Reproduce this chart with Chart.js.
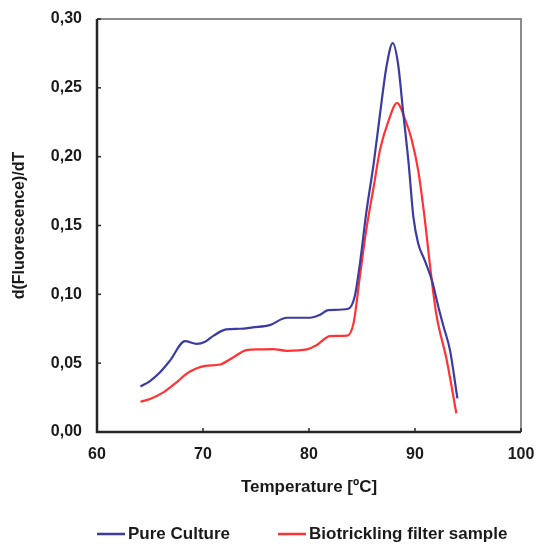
<!DOCTYPE html>
<html>
<head>
<meta charset="utf-8">
<script src="https://cdn.jsdelivr.net/npm/chart.js@4/dist/chart.umd.min.js"></script>
<style>
  html, body { margin: 0; padding: 0; background: #fff; }
  #wrap { width: 536px; height: 544px; }
</style>
</head>
<body>
<div id="wrap"><canvas id="c" width="536" height="544"></canvas></div>
<script>
// ---- data ----
const xTicks = [60, 70, 80, 90, 100];
const yTicks = [0, 0.05, 0.10, 0.15, 0.20, 0.25, 0.30];

const pureLabel = 'Pure Culture';
const pureTemp = [64.1, 65.0, 65.9, 66.9, 68.3, 69.4, 70.2, 71.0, 72.2, 73.5, 74.7, 76.3, 77.9, 80.1, 81.0, 81.8, 83.7, 84.3, 84.8, 85.4, 86.1, 86.7, 87.3, 87.9, 88.4, 88.9, 89.4, 89.85, 90.3, 90.9, 91.6, 92.2, 92.7, 93.3, 94.0];
const pureValues = [0.033, 0.037, 0.043, 0.052, 0.066, 0.064, 0.0655, 0.070, 0.0745, 0.075, 0.076, 0.0776, 0.083, 0.083, 0.085, 0.0885, 0.0895, 0.098, 0.122, 0.159, 0.195, 0.231, 0.265, 0.2825, 0.2675, 0.231, 0.195, 0.156, 0.137, 0.125, 0.110, 0.091, 0.0764, 0.0595, 0.0244];

const bioLabel = 'Biotrickling filter sample';
const bioTemp = [64.1, 65.0, 66.3, 67.5, 68.5, 70.2, 71.6, 72.8, 74.1, 75.3, 76.6, 77.9, 79.8, 80.7, 82.0, 83.6, 84.2, 84.8, 85.4, 86.1, 86.7, 87.5, 88.3, 89.1, 89.7, 90.3, 90.9, 91.4, 92.0, 93.0, 93.9];
const bioValues = [0.022, 0.024, 0.029, 0.036, 0.0426, 0.048, 0.049, 0.054, 0.0595, 0.060, 0.0602, 0.059, 0.060, 0.063, 0.0697, 0.070, 0.079, 0.113, 0.1466, 0.178, 0.205, 0.226, 0.239, 0.2264, 0.212, 0.190, 0.156, 0.122, 0.086, 0.052, 0.0136];

const xTitle = 'Temperature [ºC]';
const yTitle = 'd(Fluorescence)/dT';

const blue = '#3b3ba3';
const red = '#ff3333';
const FONT = "'Liberation Sans', Arial, sans-serif";

function pts(xs, ys) { return xs.map((x, i) => ({ x: x, y: ys[i] })); }

const framePlugin = {
  id: 'frame',
  afterDraw(chart) {
    const { ctx, chartArea: a, scales } = chart;
    ctx.save();
    ctx.strokeStyle = '#8a8a8a';
    ctx.lineWidth = 2;
    ctx.beginPath();
    ctx.moveTo(a.left, a.top);
    ctx.lineTo(a.right, a.top);
    ctx.lineTo(a.right, a.bottom);
    ctx.stroke();
    ctx.strokeStyle = '#262626';
    ctx.lineWidth = 2.5;
    ctx.beginPath();
    ctx.moveTo(a.left, a.top);
    ctx.lineTo(a.left, a.bottom);
    ctx.lineTo(a.right, a.bottom);
    ctx.stroke();
    ctx.lineWidth = 1.5;
    xTicks.forEach(v => {
      const px = scales.x.getPixelForValue(v);
      ctx.beginPath(); ctx.moveTo(px, a.bottom); ctx.lineTo(px, a.bottom - 4); ctx.stroke();
    });
    yTicks.forEach(v => {
      const py = scales.y.getPixelForValue(v);
      ctx.beginPath(); ctx.moveTo(a.left, py); ctx.lineTo(a.left + 4, py); ctx.stroke();
    });
    // legend
    const items = chart.data.datasets;
    const starts = [97, 278];
    const ly = 534;
    ctx.font = 'bold 17px ' + FONT;
    ctx.textBaseline = 'middle';
    ctx.textAlign = 'left';
    items.forEach((ds, i) => {
      const x0 = starts[i];
      ctx.strokeStyle = ds.borderColor;
      ctx.lineWidth = 2.5;
      ctx.beginPath(); ctx.moveTo(x0, ly); ctx.lineTo(x0 + 28, ly); ctx.stroke();
      ctx.fillStyle = '#1a1a1a';
      ctx.fillText(ds.label, x0 + 31, ly);
    });
    ctx.restore();
  }
};

new Chart(document.getElementById('c'), {
  type: 'line',
  data: {
    datasets: [
      { label: pureLabel, data: pts(pureTemp, pureValues), borderColor: blue, backgroundColor: blue,
        borderWidth: 2.2, pointRadius: 0, tension: 0.4, cubicInterpolationMode: 'monotone', fill: false },
      { label: bioLabel, data: pts(bioTemp, bioValues), borderColor: red, backgroundColor: red,
        borderWidth: 2.2, pointRadius: 0, tension: 0.4, cubicInterpolationMode: 'monotone', fill: false }
    ]
  },
  options: {
    responsive: false,
    animation: false,
    devicePixelRatio: 1,
    layout: { padding: { top: 19, right: 15, bottom: 46, left: 0 } },
    plugins: { legend: { display: false }, tooltip: { enabled: false } },
    scales: {
      x: {
        type: 'linear', min: 60, max: 100,
        afterBuildTicks: s => { s.ticks = xTicks.map(v => ({ value: v })); },
        afterFit: s => { s.height = 66; s.paddingLeft = 0; s.paddingRight = 0; },
        grid: { display: false, drawTicks: false },
        border: { display: false },
        ticks: { padding: 13, color: '#1a1a1a', font: { family: FONT, size: 16, weight: 'bold' }, maxRotation: 0 },
        title: { display: true, text: xTitle, color: '#1a1a1a', padding: { top: 0, bottom: 0 },
                 font: { family: FONT, size: 17, weight: 'bold' } }
      },
      y: {
        type: 'linear', min: 0, max: 0.30,
        afterBuildTicks: s => { s.ticks = yTicks.map(v => ({ value: v })); },
        afterFit: s => { s.width = 97; s.paddingTop = 0; s.paddingBottom = 0; },
        grid: { display: false, drawTicks: false },
        border: { display: false },
        ticks: { padding: 15, color: '#1a1a1a', font: { family: FONT, size: 16, weight: 'bold' },
                 callback: v => v.toFixed(2).replace('.', ',') },
        title: { display: true, text: yTitle, color: '#1a1a1a', padding: { top: 10, bottom: 0 },
                 font: { family: FONT, size: 16, weight: 'bold' } }
      }
    }
  },
  plugins: [framePlugin]
});
</script>
</body>
</html>
